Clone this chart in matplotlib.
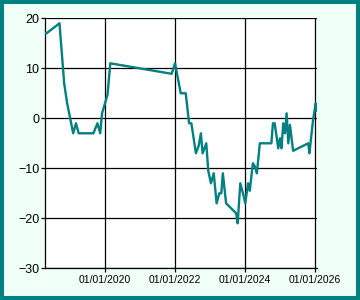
import matplotlib
matplotlib.use("Agg")
import matplotlib.pyplot as plt
import matplotlib.dates as mdates
from matplotlib.patches import Rectangle
import pandas as pd

# values
dates = ["2018-04-17", "2018-05-03", "2018-09-15", "2018-11-03", "2018-12-04",
         "2019-01-15", "2019-02-05", "2019-03-06", "2019-04-03", "2019-09-04",
         "2019-10-16", "2019-11-14", "2019-12-03", "2020-01-29", "2020-02-27",
         "2021-11-28", "2022-01-02", "2022-03-03", "2022-04-24", "2022-05-29",
         "2022-06-22", "2022-08-08", "2022-09-06", "2022-09-29", "2022-10-17",
         "2022-11-24", "2022-12-15", "2023-01-12", "2023-02-10", "2023-03-12",
         "2023-04-09", "2023-04-30", "2023-05-16", "2023-06-19", "2023-10-02",
         "2023-10-18", "2023-11-14", "2023-12-12", "2024-01-05", "2024-02-03",
         "2024-02-21", "2024-03-24", "2024-04-11", "2024-05-05", "2024-06-05",
         "2024-10-03", "2024-10-20", "2024-11-07", "2024-12-14", "2025-01-01",
         "2025-01-17", "2025-02-04", "2025-02-22", "2025-03-11", "2025-03-29",
         "2025-04-15", "2025-05-18", "2025-10-23", "2025-11-04", "2025-12-11",
         "2026-01-09", "2026-01-19"]
values = [17, 17, 19, 7, 3,
          -1, -3, -1, -3, -3,
          -1, -3, 1, 4.7, 11,
          8.9, 11, 5, 5, -1,
          -1, -7, -5.5, -3, -7,
          -5, -10.5, -13, -11, -17,
          -15, -15, -11, -17, -19,
          -21, -13, -15, -17, -13,
          -14.5, -9, -9.5, -11, -5,
          -5, -1, -1, -6, -4,
          -6, -1, -3, 1, -5,
          -1.3, -6.5, -5, -7, -0.5,
          3, 1.5]
xtick_dates = ["2020-01-01", "2022-01-01", "2024-01-01", "2026-01-01"]
yticks = [-30, -20, -10, 0, 10, 20]

x = pd.to_datetime(dates)

plt.rcParams['font.family'] = ['Liberation Sans', 'DejaVu Sans']
bg = '#F0FFF8'
teal = '#008080'

fig = plt.figure(figsize=(3.6, 3.0), dpi=100, facecolor=bg)
ax = fig.add_axes([0.125, 0.1057, 0.7547, 0.8333])
ax.set_facecolor('white')

ax.plot(x, values, color=teal, linewidth=1.7, zorder=3)

ax.set_xlim(x[0], x[-1])
ax.set_ylim(-30, 20)
ax.set_yticks(yticks)
ax.set_xticks(pd.to_datetime(xtick_dates))
ax.xaxis.set_major_formatter(mdates.DateFormatter('%m/%d/%Y'))

ax.grid(True, color='black', linewidth=0.9)
ax.set_axisbelow(True)
for s in ['top', 'right']:
    ax.spines[s].set_visible(False)
for s in ['left', 'bottom']:
    ax.spines[s].set_color('black')
    ax.spines[s].set_linewidth(0.9)

ax.tick_params(axis='y', length=3.2, width=0.9, pad=0.8, labelsize=9, colors='black')
ax.tick_params(axis='x', length=3, width=0.9, pad=2, labelsize=7.5, colors='black')

# teal frame round the whole figure
fig.patches.append(Rectangle((0, 0), 1, 1, transform=fig.transFigure,
                             fill=False, edgecolor=teal, linewidth=5.8))

fig.savefig('out.png', dpi=100, facecolor=bg)
